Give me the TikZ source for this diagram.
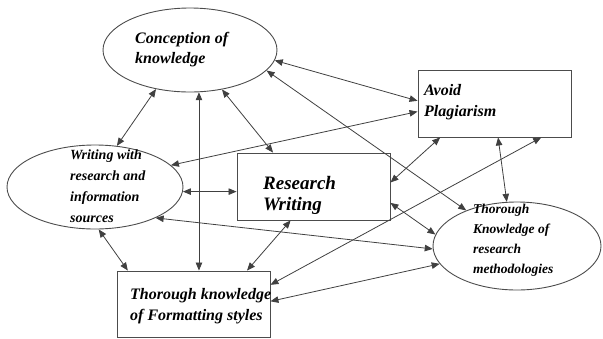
\documentclass[tikz,border=0pt]{standalone}
\usepackage{fontspec}
\setmainfont{Liberation Serif}
\usetikzlibrary{arrows.meta,shapes.geometric}

\begin{document}
\begin{tikzpicture}[x=1pt,y=-1pt,
  shp/.style={draw=black!70,line width=0.9pt,inner sep=0pt},
  oval/.style={shp,ellipse},
  box/.style={shp,rectangle},
  txt/.style n args={2}{anchor=base west,inner sep=0pt,align=left,font=\bfseries\itshape\fontsize{#1}{#2}\selectfont},
  link/.style={draw=black!75,line width=0.8pt,{Triangle[length=8pt,width=6.5pt]}-{Triangle[length=8pt,width=6.5pt]}}]
  \useasboundingbox (0,0) rectangle (603,338);
  % shapes
  \node[oval,minimum width=174pt,minimum height=84pt] (conc) at (190,50) {};
  \node[oval,minimum width=176pt,minimum height=84pt] (wri) at (95,187) {};
  \node[box,minimum width=153pt,minimum height=67pt] (res) at (313.5,186.5) {};
  \node[box,minimum width=153pt,minimum height=67pt] (avo) at (494.5,103.5) {};
  \node[box,minimum width=153pt,minimum height=66pt] (fmt) at (193.5,304) {};
  \node[oval,minimum width=168pt,minimum height=88pt] (meth) at (517,246) {};
  % texts (base = last line)
  \node[txt={16pt}{20pt}] (conc-t) at (135,63) {Conception of\\knowledge};
  \node[txt={14pt}{21pt}] (wri-t) at (70,222) {Writing with\\research and\\information\\sources};
  \node[txt={19pt}{21pt}] (res-t) at (263,210) {Research\\Writing};
  \node[txt={16pt}{21pt}] (avo-t) at (424,116) {Avoid\\Plagiarism};
  \node[txt={16pt}{21pt}] (fmt-t) at (130,320) {Thorough knowledge\\of Formatting styles};
  \node[txt={13.5pt}{20pt}] (meth-t) at (473,273) {Thorough\\Knowledge of\\research\\methodologies};
  % links
  \draw[link] (conc.229) -- (wri.62);
  \draw[link] (conc.282) -- (conc.282 |- fmt.north);
  \draw[link] (conc.309) -- (res.140);
  \draw[link] (conc.-7) -- (avo.178);
  \draw[link] (conc.-15) -- (meth.145);
  \draw[link] (wri.16) -- (avo.186);
  \draw[link] (wri.-27) -- (meth.182);
  \draw[link] (wri.-85) -- (fmt.153);
  \draw[link] (wri.-3) -- (wri.-3 -| res.west);
  \draw[link] (fmt.32) -- (res.236);
  \draw[link] (fmt.14) -- (avo.-36);
  \draw[link] (fmt.2) -- (meth.193);
  \draw[link] (res.3) -- (avo.212);
  \draw[link] (res.-12) -- (meth.172);
  \draw[link] (avo.-84) -- (meth.103);
\end{tikzpicture}
\end{document}
